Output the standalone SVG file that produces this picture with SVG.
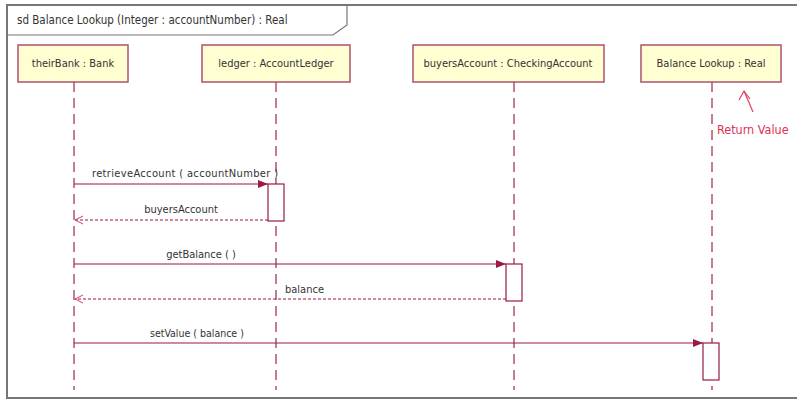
<svg xmlns="http://www.w3.org/2000/svg" width="797" height="401" viewBox="0 0 797 401">
<style>
text{font-family:Tahoma,"DejaVu Sans Condensed","Liberation Sans",sans-serif;font-size:11px;fill:#333}
.box{fill:#FFFFD2;stroke:#B05070;stroke-width:1.5}
.life{stroke:#9A2A4A;stroke-width:1.2;stroke-dasharray:10 6;fill:none}
.msg{stroke:#9A1A40;stroke-width:1.2;fill:none}
.ret{stroke:#9A1A40;stroke-width:1;stroke-dasharray:3 2;fill:none}
.act{fill:#fff;stroke:#9A1A40;stroke-width:1.2}
</style>
<defs>
<marker id="filled" markerWidth="10" markerHeight="8" refX="10" refY="4" orient="auto" markerUnits="userSpaceOnUse">
<path d="M0,0 L10,4 L0,8 Z" fill="#9A1A40"/>
</marker>
<marker id="open" markerWidth="10" markerHeight="10" refX="9" refY="5" orient="auto" markerUnits="userSpaceOnUse">
<path d="M1,1 L9,5 L1,9" fill="none" stroke="#D04060" stroke-width="1"/>
</marker>
</defs>
<rect x="0" y="0" width="797" height="401" fill="#fff"/>
<g id="frame">
<rect x="7" y="5" width="800" height="393" fill="none" stroke="#777" stroke-width="2"/>
<path d="M7,5 L347,5 L347,25 L333,35 L7,35" fill="none" stroke="#777" stroke-width="1.2"/>
<text x="17" y="24" style="font-size:11.5px">sd Balance Lookup (Integer : accountNumber) : Real</text>
</g>
<g id="lifelines">
<line class="life" x1="74" y1="82" x2="74" y2="390"/>
<line class="life" x1="276" y1="82" x2="276" y2="390"/>
<line class="life" x1="514" y1="82" x2="514" y2="390"/>
<line class="life" x1="712" y1="82" x2="712" y2="390"/>
</g>
<g id="theirBank">
<rect class="box" x="18" y="45" width="110" height="37"/>
<text x="73" y="67" text-anchor="middle">theirBank : Bank</text>
</g>
<g id="ledger">
<rect class="box" x="202" y="45" width="148" height="37"/>
<text x="276" y="67" text-anchor="middle">ledger : AccountLedger</text>
</g>
<g id="buyersAccount">
<rect class="box" x="413" y="45" width="191" height="37"/>
<text x="508" y="67" text-anchor="middle">buyersAccount : CheckingAccount</text>
</g>
<g id="balanceLookup">
<rect class="box" x="641" y="45" width="140" height="37"/>
<text x="711" y="67" text-anchor="middle">Balance Lookup : Real</text>
</g>
<g id="activations">
<rect class="act" x="268" y="184" width="16" height="37"/>
<rect class="act" x="506" y="264" width="16" height="37"/>
<rect class="act" x="703" y="343" width="16" height="37"/>
</g>
<g id="connectors">
<line class="msg" x1="74" y1="184" x2="268" y2="184" marker-end="url(#filled)"/>
<text x="92" y="177" textLength="186" lengthAdjust="spacing">retrieveAccount ( accountNumber )</text>
<line class="ret" x1="268" y1="220" x2="75" y2="220" marker-end="url(#open)"/>
<text x="181" y="213" text-anchor="middle">buyersAccount</text>
<line class="msg" x1="74" y1="264" x2="506" y2="264" marker-end="url(#filled)"/>
<text x="201" y="258" text-anchor="middle">getBalance ( )</text>
<line class="ret" x1="506" y1="299" x2="75" y2="299" marker-end="url(#open)"/>
<text x="285" y="293">balance</text>
<line class="msg" x1="74" y1="343" x2="703" y2="343" marker-end="url(#filled)"/>
<text x="150" y="337" style="font-size:10.5px">setValue ( balance )</text>
</g>
<g id="returnValue">
<line x1="753" y1="112" x2="744" y2="91" stroke="#E04060" stroke-width="1.2"/>
<path d="M739,100 L744,91 L750,99" fill="none" stroke="#E04060" stroke-width="1.2"/>
<text x="717" y="134" style="fill:#E03050;font-size:12.5px">Return Value</text>
</g>
</svg>
